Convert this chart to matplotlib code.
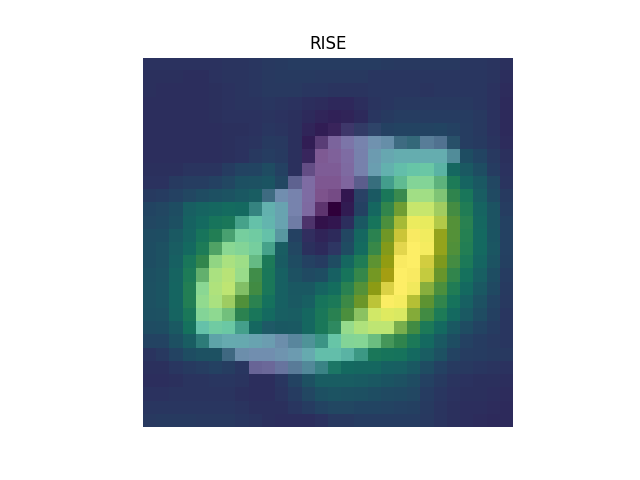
import numpy as np
import matplotlib
matplotlib.use('Agg')
import matplotlib.pyplot as plt

# saliency map, percent of max
saliency = [
 [22,22,22,22,22,22,23,23,24,25,26,27,27,27, 27,27,27,27,26,25,25,25,25,25,24,24,23,21],
 [21,21,21,20,20,22,23,23,24,25,26,26,26,25, 25,25,25,24,24,24,24,24,24,24,24,24,23,20],
 [21,20,20,20,20,21,22,23,24,25,25,25,24,24, 23,23,23,24,24,24,24,23,24,24,24,24,22,19],
 [20,20,20,20,20,21,22,23,23,24,23,22,20,19, 17,17,20,23,24,25,25,25,25,25,25,24,22,18],
 [20,20,20,20,20,21,22,22,22,23,22,21,18,16, 14,15,18,24,26,28,28,27,27,27,27,25,22,18],
 [20,20,20,20,20,20,21,21,22,24,23,21,16,12, 12,17,23,27,30,31,31,31,32,30,28,25,22,18],
 [20,20,20,20,20,20,21,22,23,26,25,21,12, 9, 11,17,24,32,34,36,39,33,31,34,28,26,23,19],
 [20,20,20,20,20,20,21,22,25,28,26,21,13, 5,  8,13,23,37,44,48,48,48,48,42,37,32,25,21],
 [21,21,21,23,23,23,27,31,32,36,30,21,11, 6,  6,12,23,39,50,58,62,63,56,52,44,37,27,22],
 [22,22,26,28,28,30,33,38,39,41,33,21,13, 4,  4,10,20,40,57,66,72,72,70,64,50,43,33,23],
 [26,27,30,33,36,38,40,43,46,36,30,24,13, 2,  2, 9,28,44,62,72,80,80,77,70,61,46,35,26],
 [32,33,37,47,50,52,55,53,50,50,42,24,12, 3,  0,11,30,52,71,84,88,88,85,76,65,50,40,28],
 [33,34,38,49,54,60,62,60,60,52,42,24,10, 7,  9,20,43,60,78,91,96,95,90,80,68,52,40,30],
 [36,37,44,50,60,66,68,68,66,60,44,30,18,15, 18,33,52,69,86,97,100,97,92,80,67,53,41,30],
 [37,39,46,53,64,72,74,72,68,60,46,33,21,18, 22,36,55,73,90,99,100,98,92,79,66,53,42,30],
 [37,39,48,61,71,78,82,79,70,63,45,36,30,27, 36,52,65,82,93,100,100,97,89,76,63,51,40,29],
 [38,40,50,64,74,82,85,78,74,62,48,39,35,37, 48,60,72,87,97,100,100,94,84,71,58,47,37,27],
 [39,41,51,66,74,83,86,80,75,62,48,43,43,50, 56,68,80,92,98,100,98,86,78,65,53,43,34,26],
 [39,41,51,66,76,82,84,79,69,58,48,44,47,60, 63,74,85,94,99,98,93,82,71,59,48,39,31,25],
 [38,39,50,62,72,75,74,69,61,54,47,46,52,62, 68,78,82,90,93,92,86,75,64,53,44,36,29,24],
 [36,37,44,58,60,66,64,58,52,42,43,44,52,62, 66,77,83,86,86,82,75,63,53,43,36,31,27,24],
 [31,31,38,46,50,46,46,45,42,38,32,36,46,56, 62,72,73,72,72,70,63,53,44,37,30,27,25,24],
 [23,25,31,37,39,39,34,32,30,30,33,37,46,58, 58,56,58,62,60,59,53,46,39,31,28,27,26,25],
 [21,21,24,26,28,30,28,24,18,18,24,32,40,48, 57,53,52,52,48,47,43,36,30,26,25,24,23,22],
 [20,20,21,23,23,24,24,23,20,20,24,31,39,46, 46,46,45,43,41,39,36,30,26,23,22,21,21,20],
 [22,22,23,23,23,23,23,21,20,20,23,27,33,38, 40,39,38,37,35,34,33,27,24,22,21,21,20,19],
 [24,24,24,24,24,24,24,23,21,21,21,24,27,31, 33,33,32,32,31,30,29,26,23,21,20,20,19,18],
 [25,26,26,26,25,25,25,24,23,21,20,20,20,22, 25,25,27,27,27,27,27,25,23,21,20,19,18,18],
]

# the digit underneath, percent grey
digit = [
 [0]*28,
 [0]*28,
 [0]*28,
 [0]*28,
 [0]*28,
 [0,0,0,0,0,0,0,0,0,0,0,0,0,0, 10,20,10,10,0,0,0,0,0,0,0,0,0,0],
 [0,0,0,0,0,0,0,0,0,0,0,0,0,50, 95,100,100,100,90,40,30,70,60,10,0,0,0,0],
 [0,0,0,0,0,0,0,0,0,0,0,0,10,100, 100,100,100,100,100,100,100,100,100,70,0,0,0,0],
 [0,0,0,0,0,0,0,0,0,0,0,0,65,100, 100,100,100,100,100,100,100,100,90,0,0,0,0,0],
 [0,0,0,0,0,0,0,0,0,0,0,65,100,100, 100,100,60,35,60,80,100,100,60,0,0,0,0,0],
 [0,0,0,0,0,0,0,0,0,40,100,100,100,100, 90,0,5,0,0,5,100,100,70,0,0,0,0,0],
 [0,0,0,0,0,0,0,0,40,100,100,100,100,58, 0,0,0,0,0,10,100,100,70,0,0,0,0,0],
 [0,0,0,0,0,0,0,60,100,100,100,90,35,0, 0,0,0,0,0,40,100,100,60,0,0,0,0,0],
 [0,0,0,0,0,0,40,100,100,100,80,0,5,0, 0,0,0,0,0,50,95,100,10,0,0,0,0,0],
 [0,0,0,0,0,35,100,100,100,60,0,0,0,0, 5,0,0,0,0,70,100,100,10,0,0,0,0,0],
 [0,0,0,0,0,90,100,100,70,0,0,0,0,0, 0,0,0,0,0,95,100,60,0,0,0,0,0,0],
 [0,0,0,0,50,100,100,100,5,0,0,0,0,0, 0,0,0,0,0,100,95,60,0,0,0,0,0,0],
 [0,0,0,0,100,100,100,60,0,0,0,0,0,0, 0,0,0,0,65,100,95,30,0,0,0,0,0,0],
 [0,0,0,0,100,100,70,0,0,0,0,0,0,0, 0,0,0,50,100,100,45,0,0,0,0,0,0,0],
 [0,0,0,0,100,100,70,0,0,0,0,0,0,0, 0,0,60,100,100,100,25,0,0,0,0,0,0,0],
 [0,0,0,0,100,100,100,60,0,5,0,0,0,0, 15,100,100,100,100,35,0,0,0,0,0,0,0,0],
 [0,0,0,0,30,90,100,100,100,100,95,75,70,50, 100,100,100,70,20,0,0,0,0,0,0,0,0,0],
 [0,0,0,0,0,0,40,95,100,100,100,100,100,100, 100,90,50,0,0,0,0,0,0,0,0,0,0,0],
 [0,0,0,0,0,0,0,0,75,80,80,70,70,45, 10,0,0,0,0,0,0,0,0,0,0,0,0,0],
 [0]*28,
 [0]*28,
 [0]*28,
 [0]*28,
]

plt.imshow(np.array(digit)/100, cmap='gray')
plt.imshow(np.array(saliency)/100, cmap='viridis', alpha=0.7)
plt.title('RISE')
plt.axis('off')
plt.savefig('out.png', dpi=100)
